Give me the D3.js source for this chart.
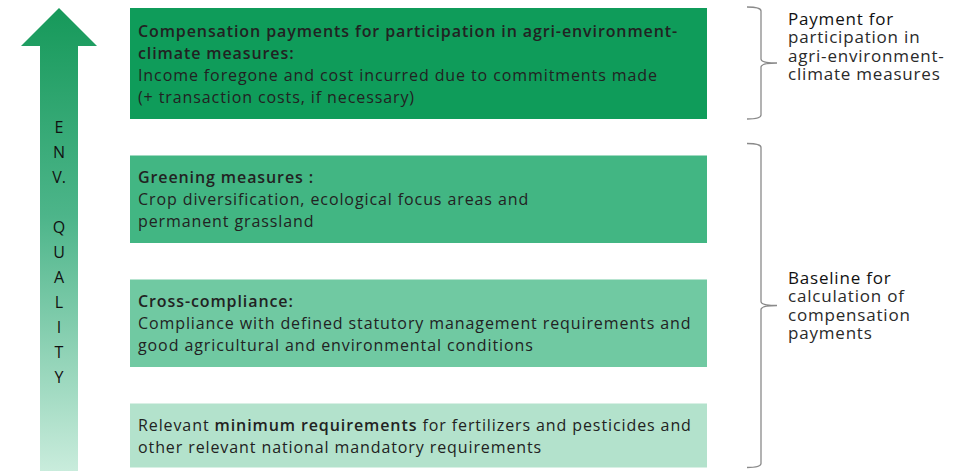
<!DOCTYPE html>
<html>
<head>
<meta charset="utf-8">
<script src="https://cdn.jsdelivr.net/npm/d3@7"></script>
<style>
  body { margin: 0; background: #fff; }
  text { font-family: "Open Sans", "Noto Sans", sans-serif; fill: #222; }
</style>
</head>
<body>
<script>
// boxes, from top (highest env. quality) to bottom; **...** = bold
var boxLines = [
    ["**Compensation payments for participation in agri-environment-**",
     "**climate measures:**",
     "Income foregone and cost incurred due to commitments made",
     "(+ transaction costs, if necessary)"],
    ["**Greening measures :**",
     "Crop diversification, ecological focus areas and",
     "permanent grassland"],
    ["**Cross-compliance:**",
     "Compliance with defined statutory management requirements and",
     "good agricultural and environmental conditions"],
    ["Relevant **minimum requirements** for fertilizers and pesticides and",
     "other relevant national mandatory requirements"]
];
var boxColors = ["#0f9c5a", "#42b683", "#70c9a2", "#b3e2cc"];

// right hand braces: which boxes they cover, and their label
var braceSpans = [[0, 0], [1, 3]];
var braceLabels = [
    ["Payment for", "participation in", "agri-environment-", "climate measures"],
    ["Baseline for", "calculation of", "compensation", "payments"]
];

var arrowLetters = ["E", "N", "V.", "", "Q", "U", "A", "L", "I", "T", "Y"];

var width = 970;
var height = 471;

var svg = d3.select("body")
    .append("svg")
    .attr("width", width)
    .attr("height", height);

var defs = svg.append("defs");
var grad = defs.append("linearGradient")
    .attr("id", "arrowGrad")
    .attr("x1", 0).attr("y1", 0).attr("x2", 0).attr("y2", 1);
grad.append("stop").attr("offset", "0%").attr("stop-color", "#16995a");
grad.append("stop").attr("offset", "45%").attr("stop-color", "#4db58a");
grad.append("stop").attr("offset", "100%").attr("stop-color", "#c9ecdc");

//Arrow on the left
var arrow = svg.append("path")
    .attr("d", "M59,8 L97,46 L78,46 L78,471 L40,471 L40,46 L21,46 Z")
    .attr("fill", "url(#arrowGrad)");

var letterY = d3.scalePoint()
    .domain(d3.range(arrowLetters.length))
    .range([133, 383]);

svg.append("g")
    .selectAll("text")
    .data(arrowLetters)
    .enter()
    .append("text")
    .attr("x", 59)
    .attr("y", function(d, i) { return letterY(i); })
    .attr("text-anchor", "middle")
    .style("font-size", "16px")
    .style("fill", "#111")
    .text(function(d) { return d; });

//Boxes: height from number of lines
var lineH = 22;
var boxX = 130, boxW = 577;
var boxes = [];
var cursorY = 8;
boxLines.forEach(function(lines, i) {
    var h = 23.5 * lines.length + 17;
    boxes.push({lines: lines, y: cursorY, h: h, color: boxColors[i]});
    cursorY += h + 36.5;
});

var box = svg.append("g")
    .selectAll("g")
    .data(boxes)
    .enter()
    .append("g");

box.append("rect")
    .attr("x", boxX)
    .attr("y", function(d) { return d.y; })
    .attr("width", boxW)
    .attr("height", function(d) { return d.h; })
    .attr("fill", function(d) { return d.color; });

box.each(function(d) {
    var g = d3.select(this);
    var first = d.y + d.h / 2 - (d.lines.length - 1) * lineH / 2 + 6;
    d.lines.forEach(function(line, j) {
        var t = g.append("text")
            .attr("x", boxX + 8)
            .attr("y", first + j * lineH)
            .style("font-size", "16px")
            .style("letter-spacing", "0.9px");
        line.split("**").forEach(function(part, k) {
            if (!part) return;
            t.append("tspan")
                .style("font-weight", k % 2 ? 600 : 400)
                .text(part);
        });
    });
});

//Braces
function bracePath(x, y0, y1) {
    var m = (y0 + y1) / 2;
    return "M" + (x - 14) + "," + y0 +
        " Q" + x + "," + y0 + " " + x + "," + (y0 + 4) +
        " L" + x + "," + (m - 4) +
        " Q" + x + "," + m + " " + (x + 16) + "," + m +
        " Q" + x + "," + m + " " + x + "," + (m + 4) +
        " L" + x + "," + (y1 - 4) +
        " Q" + x + "," + y1 + " " + (x - 14) + "," + y1;
}

var labelShift = [-38.5, -22];

braceSpans.forEach(function(span, i) {
    var y0 = boxes[span[0]].y - (span[0] === span[1] ? 1 : 12);
    var y1 = boxes[span[1]].y + boxes[span[1]].h;
    svg.append("path")
        .attr("d", bracePath(761, y0, y1))
        .attr("fill", "none")
        .attr("stroke", "#8a8a8a")
        .attr("stroke-width", 1.3);

    var m = (y0 + y1) / 2;
    var labels = braceLabels[i];
    svg.append("g")
        .selectAll("text")
        .data(labels)
        .enter()
        .append("text")
        .attr("x", 788)
        .attr("y", function(d, j) { return m + labelShift[i] + j * 18.6; })
        .style("font-size", "17px")
        .style("letter-spacing", "0.8px")
        .style("fill", function(d, j) { return j === 0 ? "#111" : "#2a2a2a"; })
        .style("font-weight", function(d, j) { return j === 0 ? 500 : 400; })
        .text(function(d) { return d; });
});
</script>
</body>
</html>
